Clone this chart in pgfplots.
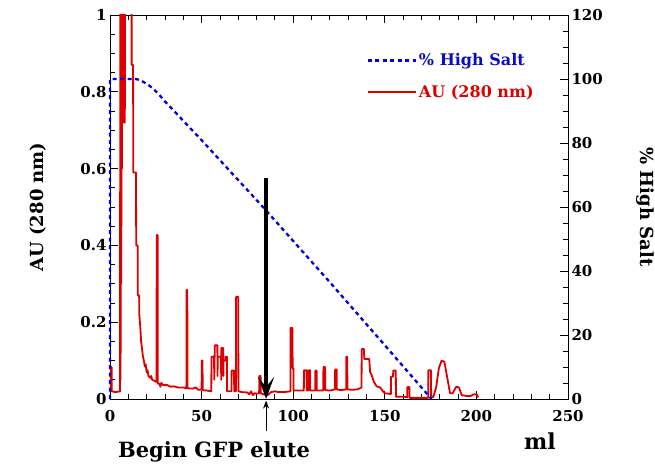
\documentclass[border=0pt]{standalone}
\usepackage{pgfplots}
\pgfplotsset{compat=1.18}
\usepackage{fontspec}
\setmainfont{DejaVu Serif}
\usetikzlibrary{arrows.meta}
\definecolor{aured}{RGB}{221,0,0}
\definecolor{saltblue}{RGB}{0,0,220}
\definecolor{legblue}{RGB}{10,10,200}

\begin{document}
\begin{tikzpicture}
\pgfplotsset{
  every axis/.append style={
    scale only axis, width=458pt, height=384pt,
    xmin=0, xmax=250,
    /pgf/number format/assume math mode=true,
    tick label style={font=\fontsize{15}{15}\selectfont\bfseries},
    label style={font=\fontsize{18}{18}\selectfont\bfseries},
    major tick length=8pt, minor tick length=5pt,
    tick align=inside,
    tick style={black, line width=0.8pt},
    axis line style={line width=0.8pt},
  }
}
% AU trace, left axis
\begin{axis}[
  at={(0,0)}, anchor=south west,
  ymin=0, ymax=1,
  xtick={0,50,100,150,200,250}, minor x tick num=4,
  ytick={0,0.2,0.4,0.6,0.8,1}, minor y tick num=3,
  ytick pos=left, xtick pos=both, xticklabel pos=bottom,
  x tick label style={yshift=-8pt},
  ylabel={AU (280 nm)},
  ylabel style={at={(axis description cs:-0.157,0.5)}, anchor=center},
]
\addplot[aured, line width=1.8pt, line join=round] coordinates {
(0,0.02) (0.3,0.02) (0.4,0.083) (0.9,0.083) (1.0,0.02) (3,0.018) (5.4,0.02)
(5.5,0.02) (5.6,1.3) (5.7,0.05) (5.8,1.3) (5.9,0.12) (6.0,1.3) (6.1,0.3)
(6.2,1.3) (6.3,0.45) (6.4,1.3) (6.5,0.6) (6.6,1.3) (6.7,0.72) (6.8,1.3)
(6.9,0.72) (7.0,1.3) (7.1,0.72) (7.2,1.3) (7.3,0.72) (7.4,1.3) (7.5,0.72)
(7.6,1.3) (7.7,0.72) (7.8,1.3) (7.9,0.72) (8.0,1.3) (8.1,0.72) (8.2,1.3)
(11.8,1.3) (11.8,0.87) (12.6,0.87) (12.7,0.59) (14.2,0.59) (14.3,0.40)
(15.1,0.40) (15.2,0.27) (15.9,0.27) (16.0,0.22) (16.5,0.19) (17,0.15)
(17.5,0.13) (18,0.11) (18.5,0.10) (19,0.085) (19.5,0.09) (20,0.07)
(20.5,0.075) (21,0.06) (22,0.055) (22.5,0.06) (23,0.05) (24,0.048)
(25,0.045) (25.4,0.045) (25.5,0.427) (26.0,0.427) (26.1,0.04) (27,0.04)
(27.5,0.032) (28,0.042) (29,0.036) (31,0.037) (33,0.032) (35,0.033)
(37,0.03) (40,0.03) (41.7,0.028) (41.8,0.284) (42.2,0.284) (42.3,0.028)
(45,0.027) (47,0.03) (48,0.024) (50.0,0.024) (50.1,0.10) (50.5,0.10)
(50.6,0.023) (53,0.022) (55.3,0.02)
(55.4,0.11) (56.8,0.11) (56.9,0.05) (57.2,0.14) (58.6,0.14) (58.7,0.06)
(58.8,0.11) (60.6,0.11) (60.7,0.05) (60.8,0.133) (61.8,0.133) (61.9,0.06)
(62.0,0.10) (63.0,0.10) (63.1,0.11) (63.8,0.11) (63.9,0.02) (65,0.02)
(66.3,0.02) (66.4,0.074) (67.7,0.074) (67.8,0.02) (68.7,0.02) (68.8,0.266)
(70.0,0.266) (70.1,0.02) (72,0.018) (75,0.017) (76,0.012) (77,0.02)
(78,0.01) (79,0.015) (80,0.014) (81.4,0.015) (81.5,0.06) (82.2,0.06)
(82.3,0.015) (84,0.012) (86,0.01) (88,0.018) (90,0.02) (92,0.018)
(95,0.018) (98.5,0.02) (98.6,0.185) (99.6,0.185) (99.7,0.08) (100.1,0.08)
(100.2,0.022) (103,0.022) (105.8,0.022) (105.9,0.075) (107.3,0.075)
(107.4,0.022) (108.3,0.022) (108.4,0.075) (109.2,0.075) (109.3,0.022)
(112,0.022) (112.1,0.074) (112.8,0.074) (112.9,0.022) (116.4,0.022)
(116.5,0.083) (117.4,0.083) (117.5,0.023) (120,0.022) (122.8,0.025)
(122.9,0.077) (123.7,0.077) (123.8,0.025) (126,0.023) (128.9,0.025)
(129.0,0.11) (129.5,0.11) (129.6,0.025) (132,0.024) (135,0.025)
(137.3,0.03) (137.4,0.13) (138.6,0.13) (138.8,0.104) (141.5,0.104)
(142,0.07) (143,0.06) (144,0.045) (145.5,0.033) (147.5,0.03) (149,0.02)
(150,0.015) (153.3,0.013) (153.4,0.058) (154.5,0.058) (154.6,0.074)
(156,0.074) (156.1,0.006) (160,0.006) (162.2,0.005) (162.3,0.031)
(163.4,0.031) (163.5,0.003) (168,0.003) (173.7,0.003) (173.8,0.075)
(175.2,0.075) (175.3,0.005) (176.5,0.005) (178,0.03) (179.5,0.08)
(181,0.10) (182.5,0.097) (184,0.058) (185.6,0.015) (187,0.015)
(189,0.032) (190.5,0.03) (192,0.01) (194.5,0.008) (197,0.008)
(198.3,0.012) (200.2,0.012) (201,0.004)
};
\end{axis}
% salt gradient, right axis
\begin{axis}[
  at={(0,0)}, anchor=south west,
  ymin=0, ymax=120,
  axis y line*=right, axis x line=none,
  y axis line style={-},
  ytick={0,20,40,60,80,100,120}, minor y tick num=3,
  ylabel={\% High Salt},
  ylabel style={rotate=180, at={(axis description cs:1.168,0.5)}, anchor=center},
  clip=false,
  legend style={draw=none, fill=none, at={(0.56,0.905)}, anchor=north west,
    font=\fontsize{16}{16}\selectfont\bfseries, row sep=14pt, inner sep=0pt},
  legend cell align=left,
  legend image code/.code={\draw[#1] (0pt,0pt) -- (48pt,0pt);},
]
\addplot[saltblue, line width=2.3pt, dash pattern=on 4pt off 3.5pt] coordinates {
(0,0) (0,100) (14,100) (16.4,99.7) (18.5,99) (21,98.1) (23.6,97) (27,95)
(30,93) (49,81.5) (83.5,60) (120,36.5) (150,16.8) (175.5,0)
};
\addlegendentry{\textcolor{legblue}{\% High Salt}}
\addlegendimage{aured, line width=1.8pt}
\addlegendentry{\textcolor{aured}{AU (280 nm)}}
\draw[line width=3.5pt, -{Stealth[length=22pt, width=16pt, inset=10pt]}]
  (axis cs:85.2,69) -- (axis cs:85.2,0);
\draw[line width=0.8pt, -{Stealth[length=8pt, width=6pt]}]
  (axis cs:85.2,-10) -- (axis cs:85.2,-0.5);
\node[font=\fontsize{21}{21}\selectfont\bfseries] at (axis cs:56.8,-16.5) {Begin GFP elute};
\node[font=\fontsize{22}{22}\selectfont\bfseries] at (axis cs:234.7,-13.1) {ml};
\end{axis}
\pgfresetboundingbox
\path[use as bounding box] (-110pt,-65pt) rectangle (545pt,399pt);
\end{tikzpicture}
\end{document}
